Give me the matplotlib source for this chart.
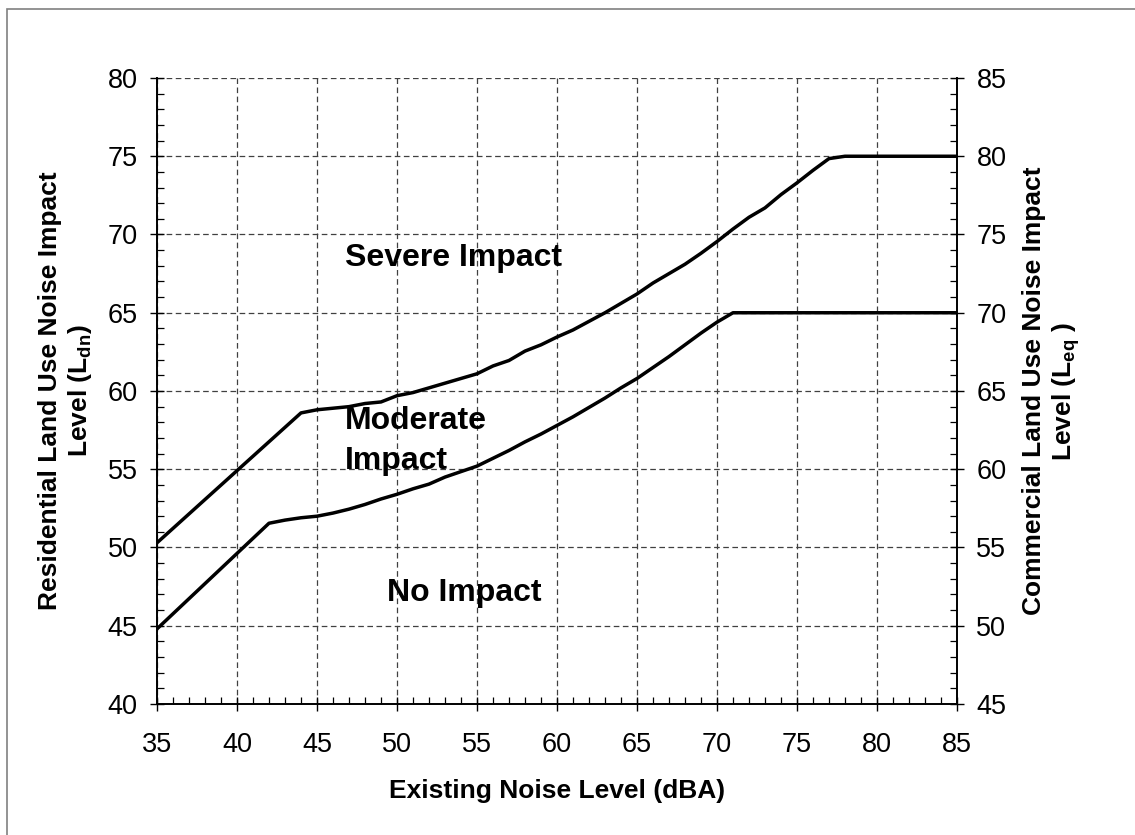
import matplotlib
matplotlib.use("Agg")
import matplotlib.pyplot as plt
from matplotlib.ticker import MultipleLocator
from matplotlib.patches import Rectangle

plt.rcParams['font.family'] = ['Liberation Sans', 'DejaVu Sans']
plt.rcParams['mathtext.fontset'] = 'custom'
plt.rcParams['mathtext.rm'] = 'Liberation Sans:bold'
plt.rcParams['mathtext.bf'] = 'Liberation Sans:bold'

# existing noise level (dBA) and impact thresholds (Ldn scale)
severe_x = [35, 44, 45, 46, 47, 48, 49, 50, 51, 52, 53, 54, 55, 56, 57, 58, 59, 60,
            61, 62, 63, 64, 65, 66, 67, 68, 69, 70, 71, 72, 73, 74, 75, 76, 77, 78, 85]
severe_y = [50.3, 58.6, 58.8, 58.9, 59.0, 59.2, 59.3, 59.7, 59.9, 60.2, 60.5, 60.8, 61.1,
            61.6, 61.95, 62.55, 62.95, 63.45, 63.9, 64.45, 65.0, 65.6, 66.2, 66.9, 67.5,
            68.1, 68.8, 69.55, 70.35, 71.1, 71.7, 72.55, 73.3, 74.1, 74.85, 75.0, 75.0]

moderate_x = [35, 42, 43, 44, 45, 46, 47, 48, 49, 50, 51, 52, 53, 54, 55, 56, 57, 58,
              59, 60, 61, 62, 63, 64, 65, 66, 67, 68, 69, 70, 71, 85]
moderate_y = [44.8, 51.55, 51.75, 51.9, 52.0, 52.2, 52.45, 52.75, 53.1, 53.4, 53.75, 54.05,
              54.5, 54.85, 55.2, 55.7, 56.2, 56.75, 57.25, 57.8, 58.35, 58.95, 59.55, 60.2,
              60.8, 61.5, 62.2, 62.95, 63.7, 64.4, 65.0, 65.0]

region_labels = [("Severe Impact", 46.75, 68.5), ("Moderate\nImpact", 46.75, 56.8),
                 ("No Impact", 49.4, 47.1)]

fig = plt.figure(figsize=(11.35, 8.35), dpi=100)
ax = fig.add_axes([157/1135, 1 - 704/835, 800/1135, 626/835])

# outer frame (only top/left edges visible in the picture)
fig.patches.append(Rectangle((7/1135, -0.2), 1.5, 1 - 9/835 + 0.2, transform=fig.transFigure,
                             fill=False, edgecolor='#808080', lw=1.2, clip_on=False))

ax.plot(severe_x, severe_y, color='black', lw=2.5, solid_joinstyle='round')
ax.plot(moderate_x, moderate_y, color='black', lw=2.5, solid_joinstyle='round')

for txt, x, y in region_labels:
    ax.text(x, y, txt, fontsize=23, fontweight='bold', ha='left', va='center',
            linespacing=1.45)

ax.set_xlim(35, 85)
ax.set_ylim(40, 80)
ax.xaxis.set_major_locator(MultipleLocator(5))
ax.xaxis.set_minor_locator(MultipleLocator(1))
ax.yaxis.set_major_locator(MultipleLocator(5))
ax.yaxis.set_minor_locator(MultipleLocator(1))
ax.grid(True, which='major', color='#404040', lw=0.9, dashes=(4.5, 2.8))
ax.tick_params(which='major', direction='inout', length=10, width=1, labelsize=19.5, pad=9)
ax.tick_params(which='minor', direction='in', length=5, width=0.9)
ax.tick_params(axis='x', which='major', pad=15)
for side in ['top', 'right']:
    ax.spines[side].set_visible(False)
for side in ['left', 'bottom']:
    ax.spines[side].set_linewidth(1.4)

ax2 = ax.twinx()
ax2.set_ylim(45, 85)
ax2.yaxis.set_major_locator(MultipleLocator(5))
ax2.yaxis.set_minor_locator(MultipleLocator(1))
ax2.tick_params(which='major', direction='inout', length=10, width=1, labelsize=19.5, pad=9)
ax2.tick_params(which='minor', direction='in', length=5, width=0.9)
for side in ['top', 'left', 'bottom']:
    ax2.spines[side].set_visible(False)
ax2.spines['right'].set_linewidth(1.4)

fig.text(557/1135, 1 - 791/835, "Existing Noise Level (dBA)", fontsize=19,
         fontweight='bold', ha='center', va='center')
fig.text(66/1135, 1 - 391/835, "Residential Land Use Noise Impact\nLevel (L$_{\\mathbf{dn}}$)",
         fontsize=19, fontweight='bold', rotation=90, ha='center', va='center',
         multialignment='center')
fig.text(1052/1135, 1 - 391/835, "Commercial Land Use Noise Impact\nLevel (L$_{\\mathbf{eq}}$ )",
         fontsize=19, fontweight='bold', rotation=90, ha='center', va='center',
         multialignment='center')

fig.savefig("out.png", dpi=100)
